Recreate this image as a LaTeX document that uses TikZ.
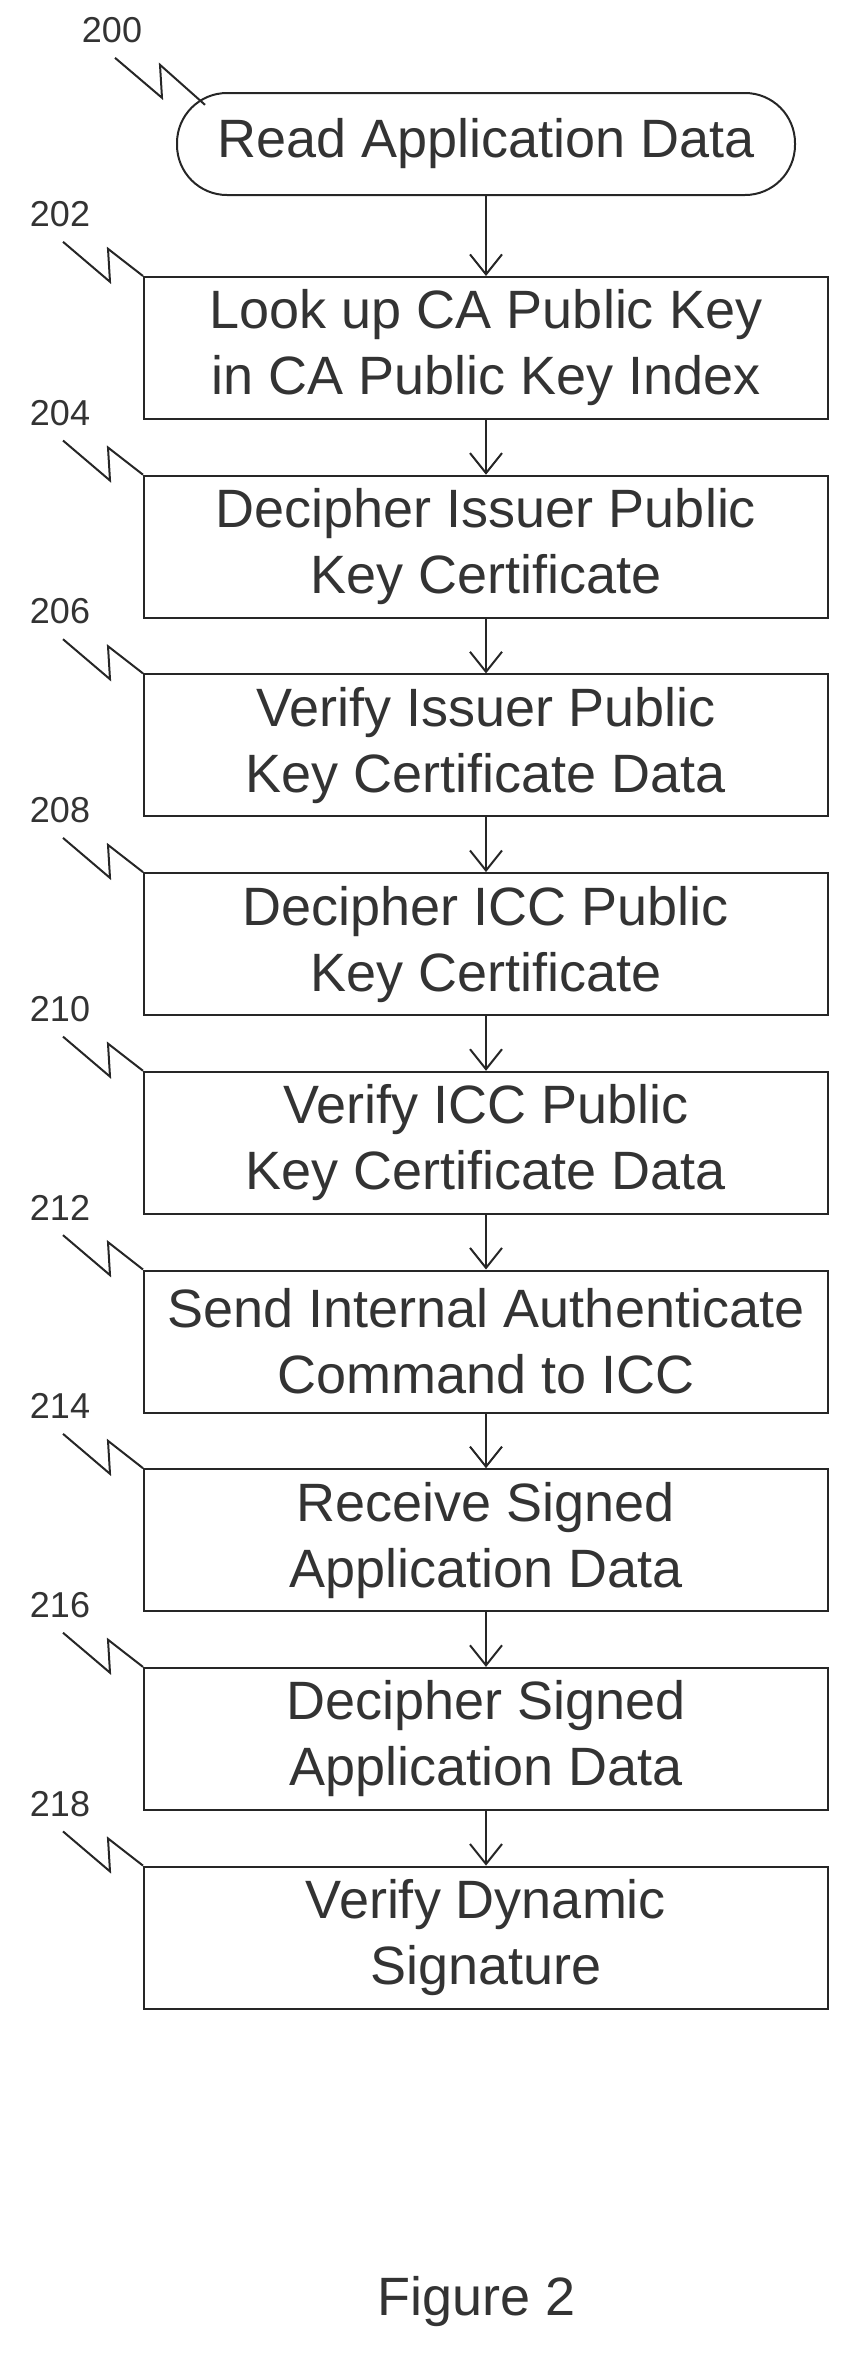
\documentclass[tikz,border=0pt]{standalone}
\usepackage{fontspec}
\setmainfont{Liberation Sans}
\usetikzlibrary{arrows.meta}
\begin{document}
\begin{tikzpicture}[x=0.5pt,y=-0.5pt,
  box/.style={draw=black!85,line width=1pt,minimum width=342pt,minimum height=71pt,align=center,font=\fontsize{27}{33}\selectfont,text=black!80,inner sep=0pt},
  term/.style={draw=black!85,line width=1pt,rounded corners=25pt,minimum width=309pt,minimum height=51pt,font=\fontsize{27}{33}\selectfont,text=black!80},
  lbl/.style={font=\fontsize{18}{20}\selectfont,text=black!80},
  arr/.style={draw=black!85,line width=1pt,-{Straight Barb[length=10pt,width=16pt]}},
  lead/.style={draw=black!85,line width=1pt}]
\useasboundingbox (0,0) rectangle (856,2372);
\node[term] (n200) at (486,144) {Read Application Data};
\node[lbl] (l200) at (112,30) {200};
\draw[lead] (l200.south) ++(3,8) -- ++(47,40) -- ++(-2,-33) -- ++(45,40);
\foreach \n/\t [count=\i from 0] in {202/{Look up CA Public Key\\in CA Public Key Index},
  204/{Decipher Issuer Public\\Key Certificate},
  206/{Verify Issuer Public\\Key Certificate Data},
  208/{Decipher ICC Public\\Key Certificate},
  210/{Verify ICC Public\\Key Certificate Data},
  212/{Send Internal Authenticate\\Command to ICC},
  214/{Receive Signed\\Application Data},
  216/{Decipher Signed\\Application Data},
  218/{Verify Dynamic\\Signature}}{
  \pgfmathsetmacro{\cy}{277+198.7*\i+71}
  \node[box] (n\n) at (486,\cy) {\t};
  \node[lbl] (l\n) at (60,\cy-134) {\n};
  \draw[lead] (l\n.south) ++(3,8) -- ++(47,40) -- ++(-2,-33) -- (n\n.north west);
}
\draw[arr] (n200) -- (n202);
\draw[arr] (n202) -- (n204);
\draw[arr] (n204) -- (n206);
\draw[arr] (n206) -- (n208);
\draw[arr] (n208) -- (n210);
\draw[arr] (n210) -- (n212);
\draw[arr] (n212) -- (n214);
\draw[arr] (n214) -- (n216);
\draw[arr] (n216) -- (n218);
\node[font=\fontsize{27}{30}\selectfont,text=black!80] (fig) at (477,2302) {Figure 2};
\end{tikzpicture}
\end{document}
